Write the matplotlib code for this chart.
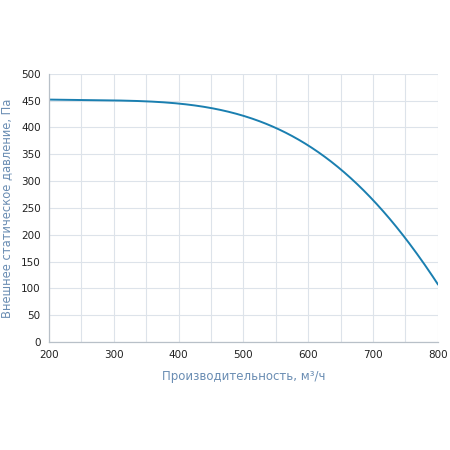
import matplotlib
matplotlib.use("Agg")
import matplotlib.pyplot as plt
import numpy as np

flow = [200, 250, 300, 350, 400, 450, 500, 550, 600, 650, 700, 750, 800]
pressure = [452, 451, 450, 449, 445, 436, 421, 399, 367, 321, 266, 192, 108]

xticks = [200, 300, 400, 500, 600, 700, 800]
yticks = [0, 50, 100, 150, 200, 250, 300, 350, 400, 450, 500]

fig = plt.figure(figsize=(4.5, 4.5), dpi=100)
ax = fig.add_axes([0.109, 0.24, 0.864, 0.596])

# smooth curve through read points
xs = np.array(flow, dtype=float)
ys = np.array(pressure, dtype=float)
coef = np.polyfit(xs, ys, 5)
xf = np.linspace(xs[0], xs[-1], 300)
ax.plot(xf, np.polyval(coef, xf), color="#1a7fb0", lw=1.4)

ax.set_xlim(200, 800)
ax.set_ylim(0, 500)
ax.set_xticks(xticks)
ax.set_xticks(np.arange(200, 801, 50), minor=True)
ax.set_yticks(yticks)
ax.grid(True, which="both", color="#dde3ea", lw=0.8)
ax.tick_params(which="both", length=0)
ax.tick_params(axis="both", labelsize=7.5, colors="#222222", pad=6)
for s in ["top", "right"]:
    ax.spines[s].set_visible(False)
for s in ["left", "bottom"]:
    ax.spines[s].set_color("#b8c0c8")
    ax.spines[s].set_linewidth(0.9)

ax.set_xlabel("Производительность, м³/ч", color="#6a8db3", fontsize=8.5, labelpad=7)
ax.set_ylabel("Внешнее статическое давление, Па", color="#6a8db3", fontsize=8.3, labelpad=6)

fig.savefig("out.png", dpi=100, facecolor="white")
